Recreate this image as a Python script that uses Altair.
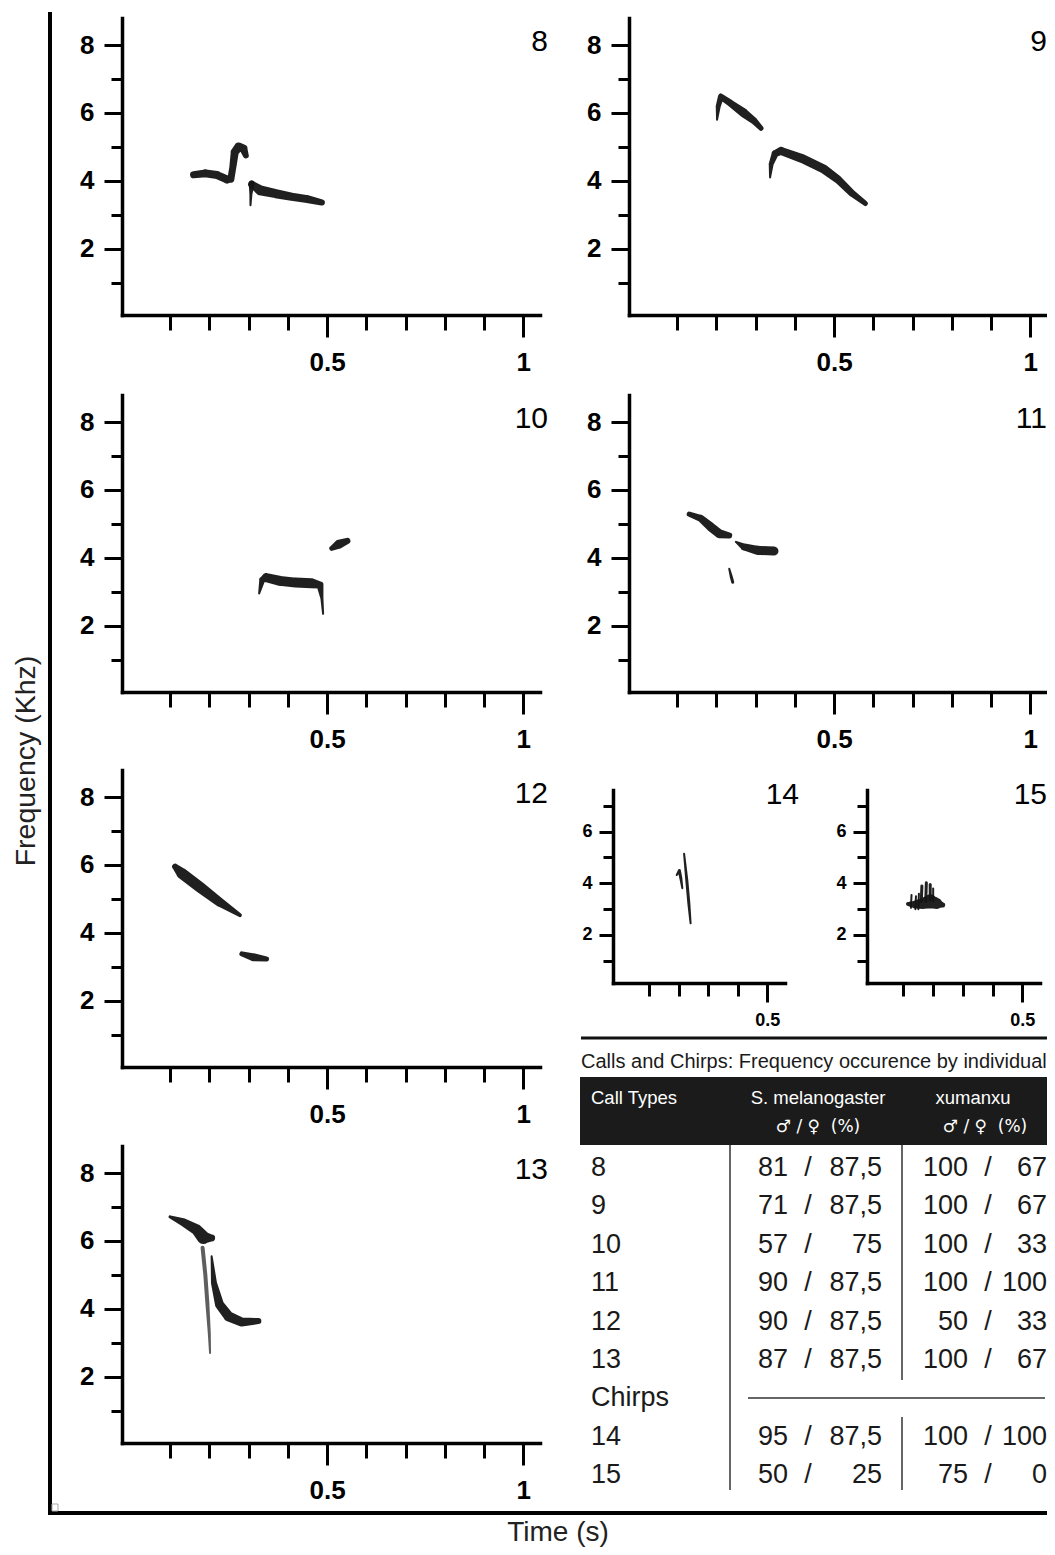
import altair as alt
import pandas as pd

# ------------------------------------------------------------------ data
# spectrogram traces: time (s), frequency (kHz), trace width, segment id
P8_T = [0.16, 0.19, 0.22, 0.245, 0.255, 0.26, 0.265, 0.275, 0.287, 0.293,
        0.305, 0.306, 0.308,
        0.308, 0.33, 0.37, 0.41, 0.45, 0.487]
P8_F = [4.18, 4.22, 4.17, 4.04, 4.05, 4.4, 4.85, 5.0, 4.95, 4.75,
        3.28, 3.6, 3.92,
        3.9, 3.72, 3.62, 3.53, 3.46, 3.36]
P8_W = [7, 8, 8, 8, 7, 7, 8, 9, 8, 6,
        2, 3, 6,
        7, 10, 9, 8, 8, 6]
P8_S = [0] * 10 + [1] * 3 + [2] * 6

P9_T = [0.202, 0.205, 0.212, 0.237, 0.27, 0.295, 0.314,
        0.337, 0.34, 0.35, 0.365, 0.42, 0.475, 0.51, 0.545, 0.58]
P9_F = [5.8, 6.2, 6.48, 6.28, 6.0, 5.78, 5.55,
        4.1, 4.5, 4.8, 4.88, 4.65, 4.34, 4.04, 3.64, 3.33]
P9_W = [2, 5, 6, 7, 9, 7, 5,
        2, 5, 7, 8, 9, 9, 8, 7, 5]
P9_S = [0] * 7 + [1] * 9

P10_T = [0.327, 0.335, 0.345, 0.38, 0.42, 0.46, 0.482, 0.487, 0.49,
         0.512, 0.53, 0.552]
P10_F = [2.95, 3.35, 3.42, 3.32, 3.27, 3.25, 3.2, 2.8, 2.35,
         4.28, 4.4, 4.5]
P10_W = [2, 6, 9, 10, 10, 10, 7, 3, 2,
         5, 9, 6]
P10_S = [0] * 9 + [1] * 3

P11_T = [0.131, 0.161, 0.186, 0.208, 0.233,
         0.25, 0.271, 0.305, 0.347,
         0.233, 0.238, 0.242]
P11_F = [5.29, 5.16, 4.91, 4.71, 4.66,
         4.47, 4.32, 4.22, 4.2,
         3.68, 3.45, 3.28]
P11_W = [5, 7, 9, 9, 6,
         2, 7, 9, 9,
         2, 3, 3]
P11_S = [0] * 5 + [1] * 4 + [2] * 3

P12_T = [0.113, 0.13, 0.176, 0.227, 0.278,
         0.283, 0.312, 0.346]
P12_F = [5.95, 5.75, 5.35, 4.9, 4.52,
         3.38, 3.28, 3.23]
P12_W = [6, 11, 11, 9, 4,
         5, 8, 5]
P12_S = [0] * 5 + [1] * 3

P13_T = [0.1, 0.134, 0.168, 0.185, 0.206,
         0.183, 0.19, 0.195, 0.2, 0.202,
         0.206, 0.212, 0.226, 0.249, 0.283, 0.325]
P13_F = [6.71, 6.55, 6.33, 6.1, 6.09,
         5.8, 5.0, 4.2, 3.3, 2.7,
         5.55, 4.76, 4.13, 3.78, 3.61, 3.64]
P13_W = [3, 8, 11, 13, 7,
         4, 4, 4, 3, 2,
         2, 6, 9, 10, 9, 6]
P13_S = [0] * 5 + [1] * 5 + [2] * 6

P14_T = [0.218, 0.227, 0.234, 0.24,
         0.193, 0.202, 0.207, 0.212]
P14_F = [5.14, 4.13, 3.23, 2.45,
         4.32, 4.49, 4.19, 3.81]
P14_W = [2, 3, 3, 2,
         2, 3, 3, 2]
P14_S = [0] * 4 + [1] * 4

P15_T = [0.115, 0.14, 0.165, 0.19, 0.212, 0.232,
         0.16, 0.162, 0.175, 0.177, 0.19, 0.19,
         0.125, 0.127, 0.14, 0.142, 0.2, 0.2, 0.15, 0.152]
P15_F = [3.2, 3.18, 3.22, 3.3, 3.22, 3.16,
         3.3, 3.9, 3.3, 4.02, 3.35, 3.95,
         3.05, 3.55, 3.0, 3.5, 3.3, 3.8, 3.0, 3.6]
P15_W = [4, 8, 11, 14, 11, 5,
         3, 3, 3, 3, 3, 3,
         2, 2, 2, 2, 2, 2, 2, 2]
P15_S = [0] * 6 + [1, 1, 2, 2, 3, 3, 4, 4, 5, 5, 6, 6, 7, 7]

# axis ticks
BIG_X_TICKS = [0.1, 0.2, 0.3, 0.4, 0.5, 0.6, 0.7, 0.8, 0.9, 1]
BIG_Y_TICKS = [1, 2, 3, 4, 5, 6, 7, 8]
SMALL_X_TICKS = [0.1, 0.2, 0.3, 0.4, 0.5]
SMALL_Y_TICKS = [1, 2, 3, 4, 5, 6, 7]

# table
ROW_LABELS = ["8", "9", "10", "11", "12", "13", "Chirps", "14", "15"]
SM_MALE = [81, 71, 57, 90, 90, 87, None, 95, 50]
SM_FEMALE = [87.5, 87.5, 75, 87.5, 87.5, 87.5, None, 87.5, 25]
XU_MALE = [100, 100, 100, 100, 50, 100, None, 100, 75]
XU_FEMALE = [67, 67, 33, 100, 33, 67, None, 100, 0]
TABLE_TITLE = "Calls and Chirps: Frequency occurence by individual"
HEAD = ["Call Types", "S. melanogaster", "xumanxu",
        "\u2642\u00a0/\u00a0\u2640\u00a0\u00a0(%)"]

# ------------------------------------------------------------------ layout
W, H = 1039, 1539
FONT = "Liberation Sans"
BIG_XDOM = [-0.0223, 1.0425]
BIG_YDOM = [0.045, 8.8]
SMALL_XDOM = [-0.023, 0.56]
SMALL_YDOM = [0.142, 7.61]


def fmt(v):
    if v is None:
        return ""
    if float(v).is_integer():
        return str(int(v))
    return str(v).replace(".", ",")


def panel(t, f, w, s, name, x0, x1, ybot, ytop, small=False, gray=()):
    df = pd.DataFrame({"t": t, "f": f, "w": w, "seg": s, "i": list(range(len(t)))})
    df["c"] = ["#555555" if k in gray else "#141414" for k in s]
    if small:
        xdom, ydom, xt, yt = SMALL_XDOM, SMALL_YDOM, SMALL_X_TICKS, SMALL_Y_TICKS
        fs, xmin_, xmaj, ymin_, ymaj, xpad, ypad = 18, 13, 19, 10, 14, 9, 7
        xcond = "datum.value == 0.5"
        xlab = "datum.value == 0.5 ? '0.5' : ''"
    else:
        xdom, ydom, xt, yt = BIG_XDOM, BIG_YDOM, BIG_X_TICKS, BIG_Y_TICKS
        fs, xmin_, xmaj, ymin_, ymaj, xpad, ypad = 26, 15, 22, 11, 18, 12, 10
        xcond = "datum.value == 0.5 || datum.value == 1"
        xlab = "datum.value == 0.5 ? '0.5' : datum.value == 1 ? '1' : ''"
    common = dict(grid=False, title=None, domainColor="black", domainWidth=3.5,
                  domainCap="square", tickColor="black", tickWidth=3,
                  labelFont=FONT, labelFontSize=fs, labelFontWeight="bold",
                  labelColor="black", labelOverlap=False, labelFlush=False)
    xaxis = alt.Axis(orient="bottom", offset=ybot - H, values=xt,
                     tickSize={"condition": {"test": xcond, "value": xmaj}, "value": xmin_},
                     labelExpr=xlab, labelPadding=xpad, **common)
    yaxis = alt.Axis(orient="left", offset=-x0, values=yt,
                     tickSize={"condition": {"test": "datum.value % 2 == 0", "value": ymaj},
                               "value": ymin_},
                     labelExpr="datum.value % 2 == 0 ? datum.label : ''",
                     labelPadding=ypad, **common)
    trail = alt.Chart(df).mark_trail(opacity=0.95).encode(
        x=alt.X("t:Q", scale=alt.Scale(domain=xdom, range=[x0, x1], nice=False, zero=False),
                axis=xaxis),
        y=alt.Y("f:Q", scale=alt.Scale(domain=ydom, range=[ybot, ytop], nice=False, zero=False),
                axis=yaxis),
        size=alt.Size("w:Q", scale=None),
        color=alt.Color("c:N", scale=None),
        detail="seg:N",
        order="i:Q",
    )
    nx = min(x1 + (14 if small else 8), W)
    ny = ytop + (5 if small else 24)
    num = alt.Chart(pd.DataFrame({"n": [name]})).mark_text(
        align="right", baseline="middle", fontSize=30, font=FONT, color="black"
    ).encode(text="n:N", x=alt.value(nx), y=alt.value(ny))
    return alt.layer(trail, num)


LX0, LX1 = 114, 532
RX0, RX1 = 621, 1039
ROWS = [(307, 10), (684, 387), (1059, 762), (1435, 1138)]

panels = [
    panel(P8_T, P8_F, P8_W, P8_S, "8", LX0, LX1, *ROWS[0]),
    panel(P9_T, P9_F, P9_W, P9_S, "9", RX0, RX1, *ROWS[0]),
    panel(P10_T, P10_F, P10_W, P10_S, "10", LX0, LX1, *ROWS[1]),
    panel(P11_T, P11_F, P11_W, P11_S, "11", RX0, RX1, *ROWS[1]),
    panel(P12_T, P12_F, P12_W, P12_S, "12", LX0, LX1, *ROWS[2]),
    panel(P13_T, P13_F, P13_W, P13_S, "13", LX0, LX1, *ROWS[3], gray=(1,)),
    panel(P14_T, P14_F, P14_W, P14_S, "14", 605, 777, 975, 782, small=True),
    panel(P15_T, P15_F, P15_W, P15_S, "15", 859, 1032, 975, 782, small=True),
]

# ------------------------------------------------------------------ frame
one = pd.DataFrame({"a": [0]})
frame = alt.layer(
    alt.Chart(one).mark_rule(color="black", strokeWidth=4).encode(
        x=alt.value(42), y=alt.value(4), y2=alt.value(1507)),
    alt.Chart(one).mark_rule(color="black", strokeWidth=4).encode(
        x=alt.value(40), x2=alt.value(W), y=alt.value(1505)),
    alt.Chart(one).mark_rect(fill="white", stroke="#aaaaaa", strokeWidth=1).encode(
        x=alt.value(44), x2=alt.value(50), y=alt.value(1496), y2=alt.value(1503)),
    alt.Chart(pd.DataFrame({"s": ["Frequency (Khz)"]})).mark_text(
        angle=270, fontSize=28.5, font=FONT, color="#222", baseline="middle").encode(
        text="s:N", x=alt.value(18), y=alt.value(753)),
    alt.Chart(pd.DataFrame({"s": ["Time (s)"]})).mark_text(
        fontSize=28, font=FONT, color="#222", baseline="middle").encode(
        text="s:N", x=alt.value(550), y=alt.value(1525)),
)

# ------------------------------------------------------------------ table
tdf = pd.DataFrame({
    "row": ROW_LABELS,
    "smm": [fmt(v) for v in SM_MALE],
    "smf": [fmt(v) for v in SM_FEMALE],
    "xum": [fmt(v) for v in XU_MALE],
    "xuf": [fmt(v) for v in XU_FEMALE],
    "sl": ["" if v is None else "/" for v in SM_MALE],
})
ybase = alt.Y("row:N", scale=alt.Scale(type="point", domain=ROW_LABELS, range=[1160, 1467],
                                       padding=0), axis=None)
tbase = alt.Chart(tdf).encode(y=ybase)


def col(field, x, align):
    return tbase.mark_text(align=align, baseline="middle", fontSize=27, font=FONT,
                           color="#1a1a1a").encode(text=f"{field}:N", x=alt.value(x))


def head(text, x, y, align, font=FONT, size=18.5):
    return alt.Chart(pd.DataFrame({"s": [text]})).mark_text(
        align=align, baseline="middle", fontSize=size, font=font, color="white"
    ).encode(text="s:N", x=alt.value(x), y=alt.value(y))


table = alt.layer(
    alt.Chart(one).mark_rule(color="#111", strokeWidth=3).encode(
        x=alt.value(573), x2=alt.value(W), y=alt.value(1030)),
    alt.Chart(pd.DataFrame({"s": [TABLE_TITLE]})).mark_text(
        align="left", baseline="middle", fontSize=20, font=FONT, color="#1a1a1a"
    ).encode(text="s:N", x=alt.value(573), y=alt.value(1054)),
    alt.Chart(one).mark_rect(color="#1b1b1b").encode(
        x=alt.value(572), x2=alt.value(W), y=alt.value(1069), y2=alt.value(1137)),
    head(HEAD[0], 583, 1090, "left"),
    head(HEAD[1], 810, 1090, "center"),
    head(HEAD[3], 810, 1119, "center", "DejaVu Sans", 17),
    head(HEAD[2], 965, 1090, "center"),
    head(HEAD[3], 977, 1119, "center", "DejaVu Sans", 17),
    alt.Chart(one).mark_rule(color="#333", strokeWidth=1.5).encode(
        x=alt.value(722), y=alt.value(1137), y2=alt.value(1482)),
    alt.Chart(one).mark_rule(color="#333", strokeWidth=1.5).encode(
        x=alt.value(894), y=alt.value(1137), y2=alt.value(1372)),
    alt.Chart(one).mark_rule(color="#333", strokeWidth=1.5).encode(
        x=alt.value(894), y=alt.value(1409), y2=alt.value(1482)),
    alt.Chart(one).mark_rule(color="#333", strokeWidth=1.5).encode(
        x=alt.value(740), x2=alt.value(1037), y=alt.value(1390)),
    col("row", 583, "left"),
    col("smm", 780, "right"),
    col("sl", 800, "center"),
    col("smf", 874, "right"),
    col("xum", 960, "right"),
    col("sl", 980, "center"),
    col("xuf", 1039, "right"),
)

chart = alt.layer(frame, *panels, table).resolve_scale(
    x="independent", y="independent"
).properties(
    width=W, height=H, padding=0, autosize=alt.AutoSizeParams(type="none")
).configure(font=FONT).configure_view(stroke=None)

chart.save("out.html", embed_options={"renderer": "svg", "actions": False})
